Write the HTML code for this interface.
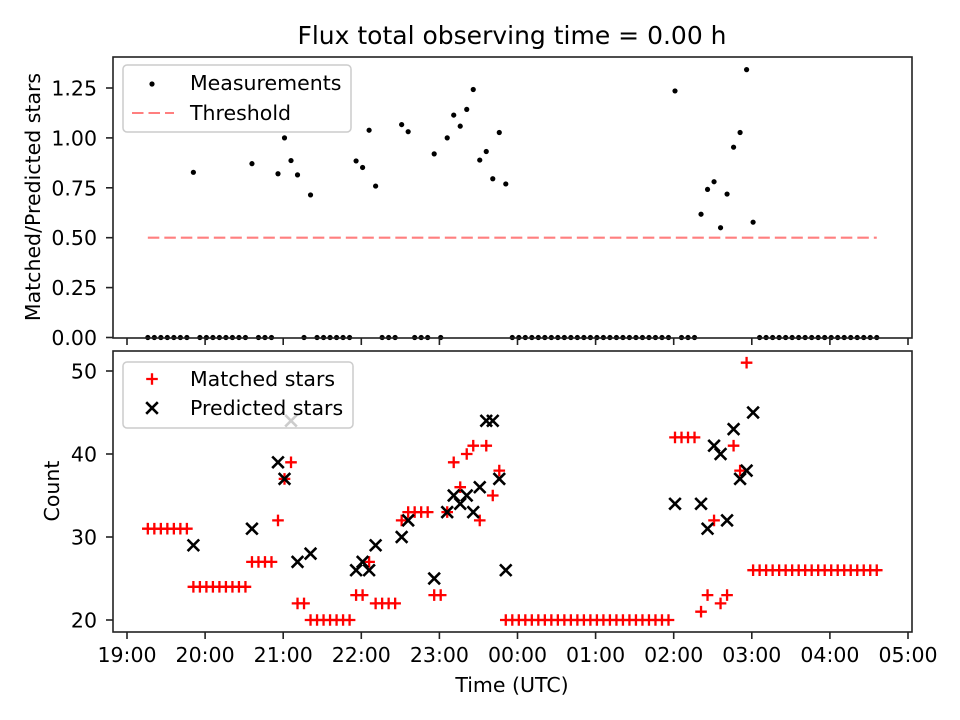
<!DOCTYPE html>
<html><head><meta charset="utf-8"><style>
body{margin:0;background:#fff;}
svg{display:block;font-family:"DejaVu Sans","Liberation Sans",sans-serif;}
</style></head><body>
<svg id="chart" width="960" height="720" viewBox="0 0 960 720" xmlns="http://www.w3.org/2000/svg">
<rect width="960" height="720" fill="#fff"/>
<text x="512" y="44" font-size="25" text-anchor="middle">Flux total observing time = 0.00 h</text>
<g id="topPanel"></g><g id="botPanel"></g>
</svg>
<script>
const startMinutes = 16;   // first sample at 19:16 UTC
const cadenceMinutes = 5;
const matched = [31,31,31,31,31,31,31,24,24,24,24,24,24,24,24,24,27,27,27,27,32,37,39,22,22,20,20,20,20,20,20,20,23,23,27,22,22,22,22,32,33,33,33,33,23,23,33,39,36,40,41,32,41,35,38,20,
20,20,20,20,20,20,20,20,20,20,20,20,20,20,20,20,20,20,20,20,20,20,20,20,20,42,42,42,42,21,23,32,22,23,41,38,51,26,26,26,26,26,26,26,26,26,26,26,26,26,26,26,26,26,26,26,26];
const N=null;
const predicted = [N,N,N,N,N,N,N,29,N,N,N,N,N,N,N,N,31,N,N,N,39,37,44,27,N,28,N,N,N,N,N,N,26,27,26,29,N,N,N,30,32,N,N,N,25,N,33,35,34,35,33,36,44,44,37,26,
N,N,N,N,N,N,N,N,N,N,N,N,N,N,N,N,N,N,N,N,N,N,N,N,N,34,N,N,N,34,31,41,40,32,43,37,38,45,N,N,N,N,N,N,N,N,N,N,N,N,N,N,N,N,N,N,N];
const threshold = 0.5;
const xTickLabels = ["19:00","20:00","21:00","22:00","23:00","00:00","01:00","02:00","03:00","04:00","05:00"];
const topTicks = [0,0.25,0.5,0.75,1.0,1.25];
const botTicks = [20,30,40,50];

const NS="http://www.w3.org/2000/svg";
const L=113,R=912,T1=57,B1=338,T2=351,B2=632;
const FS=20.5;
const X=m=>127+m*(78.1/60);
const Y1=v=>337.5-v*199.6;
const Y2=v=>620-(v-20)*8.3;
function el(p,tag,a){const e=document.createElementNS(NS,tag);for(const k in a)e.setAttribute(k,a[k]);p.appendChild(e);return e;}
const gTop=document.getElementById('topPanel'), gBot=document.getElementById('botPanel');
const times=matched.map((_,i)=>startMinutes+i*cadenceMinutes);

let th=el(gTop,'line',{x1:X(times[0]),x2:X(times[times.length-1]),y1:Y1(threshold),y2:Y1(threshold),stroke:'#ff7f7f','stroke-width':2.1,'stroke-dasharray':'11.5,5'});


times.forEach((t,i)=>{
  const r = predicted[i]==null?0:matched[i]/predicted[i];
  const c=el(gTop,'circle',{cx:X(t),cy:Y1(r),r:2.6,fill:'#000'});
  
  
});
times.forEach((t,i)=>{
  const x=X(t),y=Y2(matched[i]),s=5.8;
  const p=el(gBot,'path',{d:`M${x-s},${y}H${x+s}M${x},${y-s}V${y+s}`,stroke:'#f00','stroke-width':2.3,fill:'none'});
  
  
});
times.forEach((t,i)=>{
  if(predicted[i]==null)return;
  const x=X(t),y=Y2(predicted[i]),s=5.8;
  const p=el(gBot,'path',{d:`M${x-s},${y-s}L${x+s},${y+s}M${x-s},${y+s}L${x+s},${y-s}`,stroke:'#000','stroke-width':2.6,fill:'none'});
  
  
});
[[T1,B1,gTop],[T2,B2,gBot]].forEach(([t,b,g])=>{
  const f=el(g,'rect',{x:L,y:t,width:R-L,height:b-t,fill:'none',stroke:'#222','stroke-width':1.6});
  
  
  xTickLabels.forEach((lab,k)=>{
    const x=X(k*60);
    const tk=el(g,'line',{x1:x,x2:x,y1:b,y2:b+7,stroke:'#222','stroke-width':1.6});
    
    
    if(g===gBot){
      const tx=el(g,'text',{x:x,y:662,'font-size':FS,'text-anchor':'middle'});tx.textContent=lab;
      
      
    }
  });
});
topTicks.forEach(v=>{
  const y=Y1(v);
  const tk=el(gTop,'line',{x1:L-7,x2:L,y1:y,y2:y,stroke:'#222','stroke-width':1.6});
  
  
  const tx=el(gTop,'text',{x:L-16,y:y+7.5,'font-size':FS,'text-anchor':'end'});tx.textContent=v.toFixed(2);
  
  
});
botTicks.forEach(v=>{
  const y=Y2(v);
  const tk=el(gBot,'line',{x1:L-7,x2:L,y1:y,y2:y,stroke:'#222','stroke-width':1.6});
  
  
  const tx=el(gBot,'text',{x:L-16,y:y+7.5,'font-size':FS,'text-anchor':'end'});tx.textContent=v;
  
  
});
let a=el(gTop,'text',{x:0,y:0,'font-size':FS,'text-anchor':'middle',transform:'translate(40,197) rotate(-90)'});a.textContent='Matched/Predicted stars';


a=el(gBot,'text',{x:0,y:0,'font-size':FS,'text-anchor':'middle',transform:'translate(59,491) rotate(-90)'});a.textContent='Count';


a=el(gBot,'text',{x:512,y:692,'font-size':FS,'text-anchor':'middle'});a.textContent='Time (UTC)';


let lg=el(gTop,'rect',{x:123,y:65,width:228,height:67,rx:4,fill:'rgba(255,255,255,0.8)',stroke:'#ccc','stroke-width':1.5});


el(gTop,'circle',{cx:152,cy:84,r:2.6,fill:'#000'});
el(gTop,'line',{x1:132,x2:174,y1:113,y2:113,stroke:'#ff7f7f','stroke-width':2.1,'stroke-dasharray':'11.5,5'});
a=el(gTop,'text',{x:190,y:90,'font-size':FS});a.textContent='Measurements';


a=el(gTop,'text',{x:190,y:120,'font-size':FS});a.textContent='Threshold';


lg=el(gBot,'rect',{x:123,y:362,width:230,height:66,rx:4,fill:'rgba(255,255,255,0.8)',stroke:'#ccc','stroke-width':1.5});


el(gBot,'path',{d:'M146.2,379H157.8M152,373.2V384.8',stroke:'#f00','stroke-width':2.3});
el(gBot,'path',{d:'M146.2,402.2L157.8,413.8M146.2,413.8L157.8,402.2',stroke:'#000','stroke-width':2.6});
a=el(gBot,'text',{x:190,y:386,'font-size':FS});a.textContent='Matched stars';


a=el(gBot,'text',{x:190,y:415,'font-size':FS});a.textContent='Predicted stars';


</script>
</body></html>
